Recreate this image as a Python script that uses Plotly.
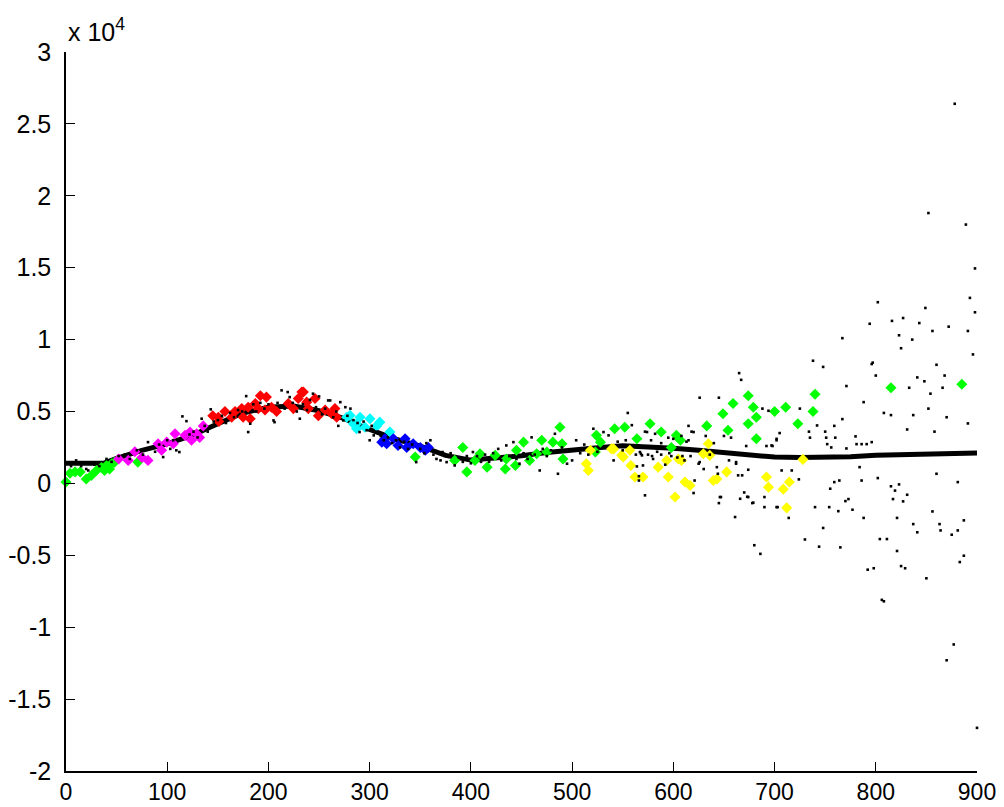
import plotly.graph_objects as go

# All y values are in units of 10^4 (the axis carries the "x 10^4" multiplier).

# Smoothed trend line
trend_x = [0, 25, 37, 50, 75, 100, 125, 150, 175, 200, 225, 250, 275, 300, 325, 350,
           375, 400, 425, 450, 475, 500, 525, 550, 575, 600, 625, 650, 675, 700, 725,
           750, 775, 800, 825, 850, 875, 900]
trend_y = [0.14, 0.14, 0.14, 0.175, 0.23, 0.275, 0.335, 0.415, 0.49, 0.53, 0.538, 0.505,
           0.45, 0.375, 0.31, 0.26, 0.195, 0.162, 0.175, 0.192, 0.215, 0.235, 0.248,
           0.262, 0.255, 0.245, 0.23, 0.215, 0.198, 0.183, 0.18, 0.182, 0.185, 0.195,
           0.2, 0.205, 0.21, 0.212]

# Raw observations (small black dots)
dot_x = [5, 10, 15, 20, 22, 28, 33, 40, 45, 52, 58, 63, 70, 76, 81, 85, 88, 92, 96, 100,
         103, 106, 109, 112, 115, 119, 122, 126, 130, 134, 137, 140,
         143, 146, 150, 154, 158, 162, 166, 170, 174, 178, 180, 182, 185, 188, 192, 196,
         200, 205, 206, 209, 213, 216, 219, 221, 224, 228, 231, 234, 238, 241, 244, 247,
         250, 253, 256, 259, 261, 264, 267, 269, 271, 274, 276, 278, 281,
         284, 288, 290, 294, 297, 300, 302, 304, 307, 311, 314, 318, 322, 326, 330, 334,
         338, 342, 346, 350, 354, 356, 360, 363, 366, 370, 372, 376, 380, 384, 388, 392,
         396, 400,
         402, 406, 410, 414, 418, 422, 427, 430, 435, 438, 442, 445, 448, 452, 456, 460,
         463, 468, 471, 475, 479, 483, 486, 490, 495, 500, 504, 508, 512, 516, 521, 525,
         531, 536, 541, 545, 550, 555,
         559, 553, 572, 582, 595, 615, 618, 650, 657, 672, 692, 698, 702, 735, 751, 752,
         756, 760, 771, 781, 786, 791, 796,
         563, 567, 569, 570, 572, 574, 578, 580, 584, 588, 592, 596, 600, 604, 608, 611,
         613, 615, 620, 621, 626, 626, 630, 632, 636, 640, 643, 645, 646, 655, 661, 662,
         665, 667, 674, 674, 664, 666, 679, 680, 686, 688, 690, 694, 697, 702, 702, 705,
         714, 725, 730, 734, 738, 742, 744, 748, 748, 750, 759, 765, 767, 767, 771, 780,
         788, 792, 794, 796, 797, 798, 800, 802, 806, 808, 808,
         568, 575, 579, 588, 598, 609, 617, 564, 566, 566, 620, 625, 644, 645, 647, 662,
         668, 670, 673, 678, 690, 703, 707, 717, 724, 740, 754, 755, 759, 764, 763, 770,
         773, 777, 784, 786, 788, 804, 811, 802, 815, 819, 823, 817, 821, 821, 825, 829,
         827, 831, 837, 841, 850, 856, 860, 863, 864, 875, 881, 881, 887, 883, 887, 877,
         870, 900,
         815, 837, 870, 891, 831, 858, 852, 854, 833, 866, 868, 848, 841, 860, 825, 896,
         823, 836, 856, 891, 872, 843, 827, 816, 849, 898, 893, 898, 889, 852, 878]
dot_y = [0.12, 0.16, 0.12, 0.10, 0.09, 0.13, 0.12, 0.17, 0.15, 0.19, 0.20, 0.17, 0.23,
         0.20, 0.287, 0.25, 0.22, 0.27, 0.183, 0.30, 0.24, 0.30, 0.23, 0.218, 0.466,
         0.433, 0.34, 0.36, 0.32, 0.45, 0.40, 0.36,
         0.515, 0.43, 0.44, 0.47, 0.42, 0.49, 0.46, 0.51, 0.50, 0.607, 0.357, 0.415, 0.55,
         0.50, 0.56, 0.52, 0.55, 0.438, 0.426, 0.56, 0.647, 0.52, 0.635, 0.60, 0.56, 0.50,
         0.45, 0.55, 0.51, 0.58, 0.624, 0.53, 0.605, 0.48, 0.52, 0.577, 0.577, 0.46, 0.50,
         0.40, 0.565, 0.438, 0.53, 0.47, 0.52,
         0.44, 0.42, 0.357, 0.43, 0.37, 0.30, 0.40, 0.334, 0.36, 0.33, 0.30, 0.32, 0.28,
         0.30, 0.25, 0.29, 0.24, 0.27, 0.148, 0.24, 0.21, 0.28, 0.30, 0.20, 0.17, 0.16,
         0.218, 0.148, 0.21, 0.125, 0.18, 0.15, 0.19, 0.14,
         0.218, 0.19, 0.15, 0.20, 0.15, 0.21, 0.24, 0.16, 0.264, 0.19, 0.287, 0.17, 0.137,
         0.21, 0.17, 0.32, 0.20, 0.09, 0.24, 0.19, 0.23, 0.345, 0.067, 0.25, 0.137, 0.16,
         0.30, 0.21, 0.27, 0.20, 0.38, 0.22, 0.357, 0.334, 0.16, 0.29, 0.23, 0.49,
         0.405, 0.30, 0.36, 0.345, 0.318, 0.30, 0.36, 0.33, 0.318, 0.26, 0.26, 0.26, 0.30,
         0.318, 0.318, 0.273, 0.25, 0.318, 0.243, 0.273, 0.273, 0.273, 0.287,
         0.20, 0.218, 0.195, 0.125, -0.083, 0.357, 0.30, 0.17, 0.22, 0.28, 0.13, 0.21,
         0.31, 0.18, 0.33, 0.16, 0.29, 0.40, 0.357, 0.02, 0.596, 0.148, 0.10, 0.33, 0.20,
         0.28, 0.113, 0.596, -0.095, 0.16, -0.234, 0.148, 0.767, 0.72, 0.095, -0.095,
         0.056, -0.107, -0.134, -0.43, -0.49, 0.52, -0.165, 0.505, 0.264, 0.31, -0.165,
         0.35, -0.24, 0.52, -0.39, 0.36, 0.853, 0.403, -0.44, 0.81, -0.31, 0.36, 0.40,
         -0.445, 1.01, 0.447, 0.677, 0.327, 0.565, -0.60, 1.11, 0.83, 0.84, -0.59, 0.75,
         1.26, -0.81, -0.82, 0.49,
         0.206, 0.20, 0.19, 0.20, 0.19, 0.19, 0.19, 0.118, 0.05, 0.02, -0.067, 0.137,
         0.067, -0.137, -0.095, 0.137, 0.056, -0.063, -0.093, -0.137, -0.095, -0.165,
         0.09, 0.09, 0.028, -0.165, -0.165, -0.037, 0.009, 0.02, -0.193, -0.123, -0.109,
         -0.183, 0.113, 0.02, -0.24, -0.387, -0.387, 0.037, -0.02, -0.05, -0.007, -0.109,
         -0.24, -0.47, -0.575, -0.59, -0.125, -0.079, -0.283, -0.34, -0.66, -0.195, 0.067,
         -0.283, -0.327, -0.357, 0.009, -0.327, -0.257, -0.547, -0.503, -1.12, -1.23,
         -1.70,
         0.475, 0.475, 0.46, 0.417, 0.375, 0.36, 0.52, 0.624, 0.665, 0.665, 0.75, 0.71,
         0.737, 0.825, 0.94, 0.897, 1.03, 1.00, 1.06, 1.06, 1.09, 1.115, 1.15, 1.13, 1.22,
         1.19, 1.29, 1.495, 1.80, 1.88, 2.64]

# Classified points, one series per class
green_x = [0, 4, 9, 14, 20, 25, 30, 35, 38, 40, 43, 45, 48, 71,
           345, 384, 392, 396, 404, 409, 416, 424, 434, 435, 444, 445, 452, 458, 465, 470,
           475, 481, 488, 490, 491, 523, 524, 528, 542, 552, 564, 577, 588, 598, 603, 607,
           633, 649, 654, 659, 674, 679, 682, 674, 682, 700, 711, 723, 738, 740, 815, 885]
green_y = [0.01, 0.07, 0.08, 0.08, 0.03, 0.055, 0.09, 0.11, 0.09, 0.125, 0.10, 0.137,
           0.148, 0.148,
           0.183, 0.16, 0.25, 0.08, 0.16, 0.206, 0.113, 0.195, 0.10, 0.17, 0.125, 0.23,
           0.287, 0.16, 0.206, 0.30, 0.218, 0.287, 0.39, 0.276, 0.17, 0.218, 0.334, 0.287,
           0.38, 0.39, 0.31, 0.415, 0.357, 0.25, 0.334, 0.30, 0.40, 0.485, 0.37, 0.555,
           0.61, 0.53, 0.46, 0.415, 0.31, 0.50, 0.53, 0.415, 0.50, 0.62, 0.665, 0.69]

magenta_x = [52, 61.5, 68, 75, 81, 91, 94.5, 99.5, 106, 107.7, 117.6, 122.5, 124, 129,
             132, 135.6]
magenta_y = [0.17, 0.16, 0.22, 0.18, 0.16, 0.276, 0.23, 0.287, 0.276, 0.345, 0.334,
             0.357, 0.30, 0.345, 0.32, 0.40]

red_x = [145, 150.5, 151, 157, 163.7, 167, 173.6, 175, 180, 182, 187, 190, 192, 196.6,
         198, 203, 208, 219.6, 224.6, 229.5, 233, 234.5, 237.8, 239.4, 246, 249.3, 256,
         262.5, 265.7, 267.4]
red_y = [0.47, 0.46, 0.43, 0.50, 0.46, 0.50, 0.52, 0.46, 0.53, 0.45, 0.555, 0.52, 0.61,
         0.51, 0.60, 0.53, 0.50, 0.555, 0.52, 0.59, 0.635, 0.635, 0.565, 0.52, 0.59, 0.47,
         0.51, 0.485, 0.52, 0.46]

cyan_x = [277.3, 280.6, 283.8, 287, 287, 290.5, 295.4, 300.3, 307, 310, 320]
cyan_y = [0.46, 0.473, 0.415, 0.415, 0.38, 0.46, 0.39, 0.45, 0.40, 0.426, 0.357]

blue_x = [312, 315, 316.8, 323.4, 328, 335, 336.6, 343, 350, 355, 358]
blue_y = [0.287, 0.31, 0.276, 0.31, 0.264, 0.31, 0.25, 0.276, 0.25, 0.23, 0.25]

yellow_x = [514, 516, 518, 539, 541, 549, 550.6, 557, 558, 562, 570, 585, 593.4, 595,
            601.7, 605, 608, 611.5, 616.5, 629.6, 634.6, 636, 639.5, 643, 652.7, 692, 694,
            708.6, 714.6, 712, 728]
yellow_y = [0.137, 0.09, 0.23, 0.24, 0.24, 0.195, 0.183, 0.23, 0.125, 0.044, 0.044,
            0.113, 0.16, 0.044, -0.095, 0.17, 0.16, 0.01, -0.014, 0.206, 0.276, 0.195,
            0.02, 0.03, 0.08, 0.044, -0.026, -0.04, 0.01, -0.17, 0.167]

x_ticks = [0, 100, 200, 300, 400, 500, 600, 700, 800, 900]
y_ticks = [-2, -1.5, -1, -0.5, 0, 0.5, 1, 1.5, 2, 2.5, 3]
y_tick_text = ["-2", "-1.5", "-1", "-0.5", "0", "0.5", "1", "1.5", "2", "2.5", "3"]

fig = go.Figure()

fig.add_trace(go.Scatter(x=trend_x, y=trend_y, mode="lines",
                         line=dict(color="black", width=5), hoverinfo="skip"))

classes = [
    (green_x, green_y, "#00ff00"),
    (magenta_x, magenta_y, "#ff00ff"),
    (red_x, red_y, "#ff0000"),
    (cyan_x, cyan_y, "#00ffff"),
    (blue_x, blue_y, "#0000ff"),
    (yellow_x, yellow_y, "#ffff00"),
]
for cx, cy, col in classes:
    fig.add_trace(go.Scatter(x=cx, y=cy, mode="markers", cliponaxis=False,
                             marker=dict(symbol="diamond", size=8.5, color=col,
                                         line=dict(width=0))))

fig.add_trace(go.Scatter(x=dot_x, y=dot_y, mode="markers", cliponaxis=False,
                         marker=dict(symbol="square", size=2.6, color="black",
                                     line=dict(width=0))))

font_family = "Liberation Sans, Arial, Helvetica, sans-serif"

fig.update_layout(
    width=1004, height=807,
    margin=dict(l=66, r=27, t=52, b=36),
    paper_bgcolor="white", plot_bgcolor="white",
    showlegend=False,
    font=dict(family=font_family, size=25, color="black"),
    xaxis=dict(range=[0, 900], tickvals=x_ticks, ticks="inside", ticklen=9,
               tickwidth=1, tickcolor="black", showline=True, linecolor="black",
               linewidth=1.5, showgrid=False, zeroline=False, mirror=False,
               automargin=False, ticklabelstandoff=0, tickfont=dict(size=23)),
    yaxis=dict(range=[-2, 3], tickvals=y_ticks, ticktext=y_tick_text, ticks="inside",
               ticklen=9, tickwidth=1, tickcolor="black", showline=True,
               linecolor="black", linewidth=1.5, showgrid=False, zeroline=False,
               mirror=False, automargin=False, ticklabelstandoff=8),
    annotations=[dict(text="x 10<sup>4</sup>", xref="paper", yref="paper", x=0,
                      y=1, xanchor="left", yanchor="bottom", yshift=4,
                      showarrow=False, font=dict(family=font_family, size=25))],
)

fig.write_html("out.html")
